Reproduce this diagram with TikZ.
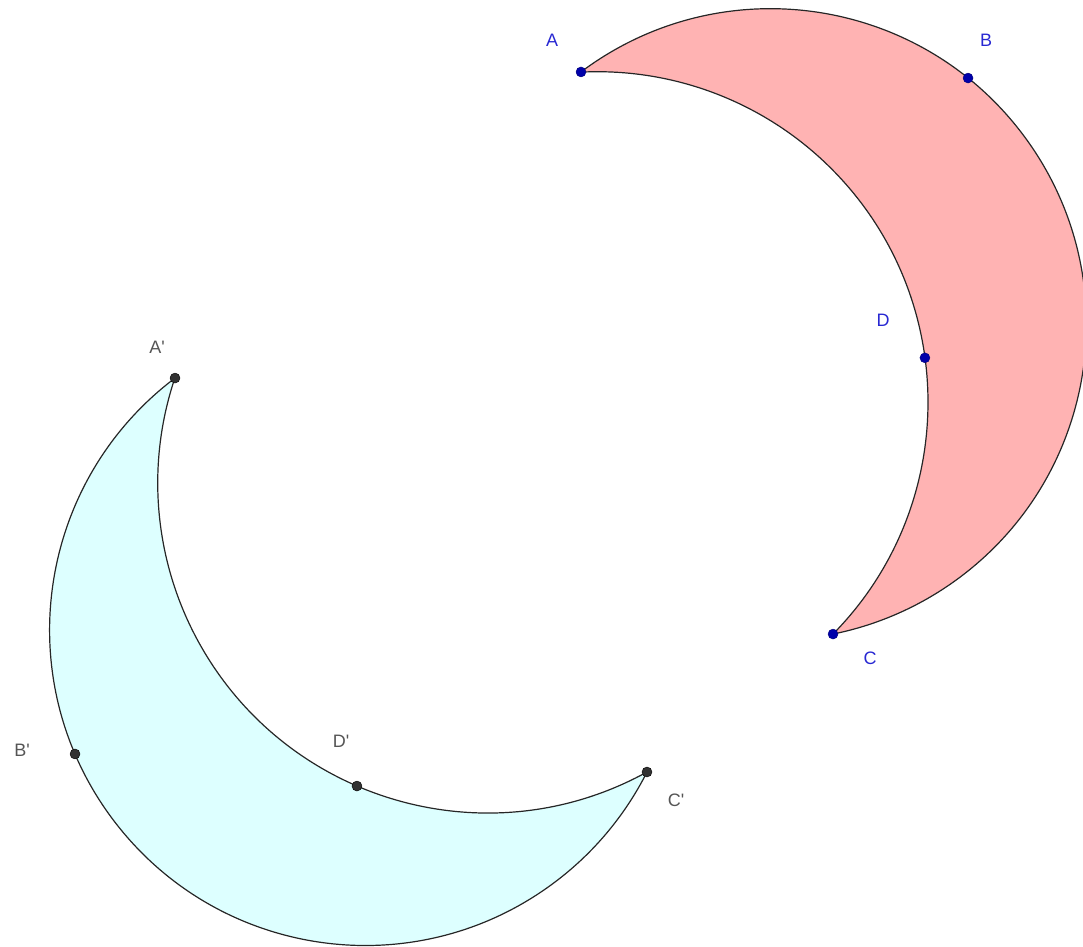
\documentclass[tikz,border=0pt]{standalone}
\usepackage{fontspec}
\newfontfamily\labfont{Liberation Sans}
\usetikzlibrary{calc}
\definecolor{redfill}{RGB}{255,179,179}
\definecolor{bluefill}{RGB}{221,255,255}
\definecolor{ptblue}{RGB}{0,0,170}
\definecolor{labblue}{RGB}{40,40,210}
\definecolor{ptgray}{RGB}{50,50,50}
\definecolor{labgray}{RGB}{85,85,85}
\tikzset{
  crescent/.style={draw=black!85, line width=1.2pt},
  bpt/.style={circle, fill=ptblue, draw=ptblue!70!black, inner sep=0pt, minimum size=10pt},
  gpt/.style={circle, fill=ptgray, draw=black, inner sep=0pt, minimum size=10pt},
  blab/.style={text=labblue, font=\labfont\fontsize{18}{18}\selectfont},
  glab/.style={text=labgray, font=\labfont\fontsize{18}{18}\selectfont},
}
\begin{document}
\begin{tikzpicture}[x=1pt,y=1pt]
\useasboundingbox (0,0) rectangle (1083,946);
% red crescent: outer center (770.6,621.5) r 315.8 ; inner center (597.4,543.9) r 330.5
\coordinate (Ro) at (770.6,621.5);
\coordinate (Ri) at (597.4,543.9);
\coordinate (A) at ($(Ro)+(126.9:315.8pt)$);
\fill[redfill] (A) arc[start angle=126.9, end angle=-78.6, radius=315.8pt]
   arc[start angle=-44.55, end angle=92.8, radius=330.5pt] -- cycle;
\draw[crescent] (A) arc[start angle=126.9, end angle=-78.6, radius=315.8pt]
   arc[start angle=-44.55, end angle=92.8, radius=330.5pt] -- cycle;
% blue crescent: outer center (365.2,316.1) r 315.6 ; inner center (487.8,462.9) r 330
\coordinate (Bo) at (365.2,316.1);
\coordinate (Bi) at (487.8,462.9);
\coordinate (A2) at ($(Bo)+(127.06:315.6pt)$);
\fill[bluefill] (A2) arc[start angle=127.06, end angle=333.24, radius=315.6pt]
   arc[start angle=298.86, end angle=161.43, radius=330pt] -- cycle;
\draw[crescent] (A2) arc[start angle=127.06, end angle=333.24, radius=315.6pt]
   arc[start angle=298.86, end angle=161.43, radius=330pt] -- cycle;
% points
\node[bpt] (pA) at (A) {};
\node[bpt] (pB) at ($(Ro)+(51.3:315.8pt)$) {};
\node[bpt] (pC) at ($(Ro)+(-78.6:315.8pt)$) {};
\node[bpt] (pD) at ($(Ri)+(7.7:330.5pt)$) {};
\node[gpt] (pA2) at (A2) {};
\node[gpt] (pB2) at ($(Bo)+(203.15:315.6pt)$) {};
\node[gpt] (pC2) at ($(Bo)+(333.24:315.6pt)$) {};
\node[gpt] (pD2) at ($(Bi)+(246.64:330pt)$) {};
% labels
\node[blab] (lA) at (552,906) {A};
\node[blab] (lB) at (986,906) {B};
\node[blab] (lD) at (883,626) {D};
\node[blab] (lC) at (870,288) {C};
\node[glab] (lA2) at (157,599) {A'};
\node[glab] (lB2) at (22,196) {B'};
\node[glab] (lD2) at (341,205) {D'};
\node[glab] (lC2) at (676,146) {C'};
\end{tikzpicture}
\end{document}
